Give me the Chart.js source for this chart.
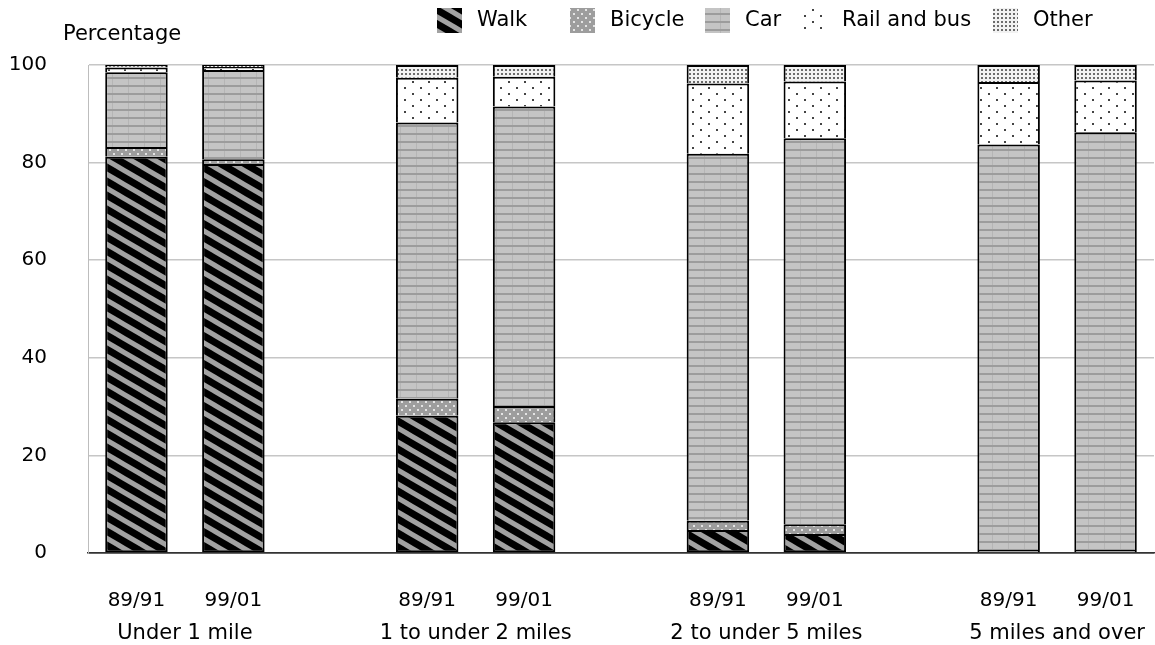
<!DOCTYPE html>
<html>
<head>
<meta charset="utf-8">
<script src="https://cdn.jsdelivr.net/npm/chart.js@4/dist/chart.umd.min.js"></script>
<style>
  html, body { margin: 0; padding: 0; background: #fff; overflow: hidden; }
  #wrap { width: 1155px; height: 645px; position: relative; }
</style>
</head>
<body>
<div id="wrap"><canvas id="c"></canvas></div>
<script>
// Survey periods per bar; empty slots separate the distance bands
const periods = ['89/91', '99/01', '', '89/91', '99/01', '', '89/91', '99/01', '', '89/91', '99/01'];
const distanceBands = ['Under 1 mile', '1 to under 2 miles', '2 to under 5 miles', '5 miles and over'];
const yTicks = [0, 20, 40, 60, 80, 100];
const yTitle = 'Percentage';

// Share of trips by main mode (%)
const walk     = [81.2, 79.7, null, 28.1, 26.8, null,  4.7,  3.9, null,  0.0,  0.0];
const bicycle  = [ 2.0,  1.0, null,  3.5,  3.3, null,  1.9,  2.0, null,  0.6,  0.6];
const car      = [15.3, 18.3, null, 56.6, 61.4, null, 75.2, 79.1, null, 83.1, 85.6];
const railBus  = [ 1.0,  0.6, null,  9.2,  6.1, null, 14.4, 11.6, null, 12.8, 10.6];
const other    = [ 0.5,  0.4, null,  2.6,  2.4, null,  3.8,  3.4, null,  3.5,  3.2];

const FONT = '"DejaVu Sans", sans-serif';

function tile(w, h, paint) {
  const c = document.createElement('canvas');
  c.width = w; c.height = h;
  paint(c.getContext('2d'), w, h);
  return document.createElement('canvas').getContext('2d').createPattern(c, 'repeat');
}

// Black with grey diagonal stripes
const walkFill = tile(24, 14, (g, w, h) => {
  g.fillStyle = '#000'; g.fillRect(0, 0, w, h);
  g.strokeStyle = '#a2a2a2'; g.lineWidth = 5;
  for (const dy of [-h, 0, h]) {
    g.beginPath(); g.moveTo(-w, dy - h); g.lineTo(2 * w, dy + 2 * h); g.stroke();
  }
});
// Mid grey with small light dots
const bicycleFill = tile(8, 8, (g, w, h) => {
  g.fillStyle = '#9d9d9d'; g.fillRect(0, 0, w, h);
  g.fillStyle = '#e4e4e4'; g.fillRect(1, 1, 2, 2); g.fillRect(5, 5, 2, 2);
});
// Light grey with horizontal rules
const carFill = tile(16, 8, (g, w, h) => {
  g.fillStyle = '#c4c4c4'; g.fillRect(0, 0, w, h);
  g.fillStyle = '#b5b5b5'; g.fillRect(0, 0, 1, h);
  g.fillStyle = '#9c9c9c'; g.fillRect(0, 5, w, 2);
});
// White with sparse staggered dots
const railFill = tile(16, 12, (g, w, h) => {
  g.fillStyle = '#fff'; g.fillRect(0, 0, w, h);
  g.fillStyle = '#444'; g.fillRect(4, 3, 2, 2); g.fillRect(12, 9, 2, 2);
});
// White with dense fine dots
const otherFill = tile(4, 4, (g, w, h) => {
  g.fillStyle = '#f2f2f2'; g.fillRect(0, 0, w, h);
  g.fillStyle = '#6c6c6c'; g.fillRect(1, 1, 2, 2);
});

const edge = { top: 2, left: 2, right: 2, bottom: 0 };
const series = [
  { label: 'Walk', data: walk, backgroundColor: walkFill, borderWidth: { top: 2, left: 2, right: 2, bottom: 2 } },
  { label: 'Bicycle', data: bicycle, backgroundColor: bicycleFill, borderWidth: edge },
  { label: 'Car', data: car, backgroundColor: carFill, borderWidth: edge },
  { label: 'Rail and bus', data: railBus, backgroundColor: railFill, borderWidth: edge },
  { label: 'Other', data: other, backgroundColor: otherFill, borderWidth: edge }
].map(d => Object.assign(d, { borderColor: '#000', borderSkipped: false, barPercentage: 0.645, categoryPercentage: 1 }));

// Legend, axis caption and band captions
const legendLeft = [437, 570, 705, 802, 993];
const captions = {
  id: 'captions',
  afterDraw(chart) {
    const { ctx, scales: { x } } = chart;
    ctx.save();
    ctx.font = '21px ' + FONT;
    ctx.fillStyle = '#000';
    ctx.textBaseline = 'middle';
    ctx.textAlign = 'left';
    ctx.fillText(yTitle, 63, 35);

    chart.data.datasets.forEach((ds, i) => {
      const lx = legendLeft[i];
      ctx.fillStyle = ds.backgroundColor;
      ctx.fillRect(lx, 8, 25, 25);
      ctx.fillStyle = '#000';
      ctx.fillText(ds.label, lx + 40, 21);
    });

    ctx.textAlign = 'center';
    distanceBands.forEach((band, i) => {
      const cx = (x.getPixelForValue(3 * i) + x.getPixelForValue(3 * i + 1)) / 2;
      ctx.fillText(band, cx, 634);
    });
    ctx.restore();
  }
};

new Chart(document.getElementById('c'), {
  type: 'bar',
  data: { labels: periods, datasets: series },
  plugins: [captions],
  options: {
    responsive: true,
    maintainAspectRatio: false,
    devicePixelRatio: 1,
    animation: false,
    layout: { padding: { top: 65, right: 1, bottom: 0, left: 0 } },
    plugins: { legend: { display: false }, tooltip: { enabled: false } },
    scales: {
      x: {
        stacked: true,
        afterFit(s) { s.height = 92; s.paddingLeft = 0; s.paddingRight = 0; },
        grid: { display: false, drawTicks: false },
        border: { display: true, color: '#333', width: 1.5 },
        ticks: { color: '#000', font: { family: FONT, size: 20 }, padding: 36, maxRotation: 0, autoSkip: false }
      },
      y: {
        stacked: true,
        min: 0,
        max: 100,
        afterFit(s) { s.width = 88; },
        afterBuildTicks(s) { s.ticks = yTicks.map(v => ({ value: v })); },
        grid: {
          drawTicks: false,
          lineWidth: 1.5,
          color: c => (c.tick && c.tick.value === 0 ? '#333' : '#c6c6c6')
        },
        border: { display: true, color: '#bdbdbd', width: 1 },
        ticks: { color: '#000', font: { family: FONT, size: 20 }, padding: 41 }
      }
    }
  }
});
</script>
</body>
</html>
